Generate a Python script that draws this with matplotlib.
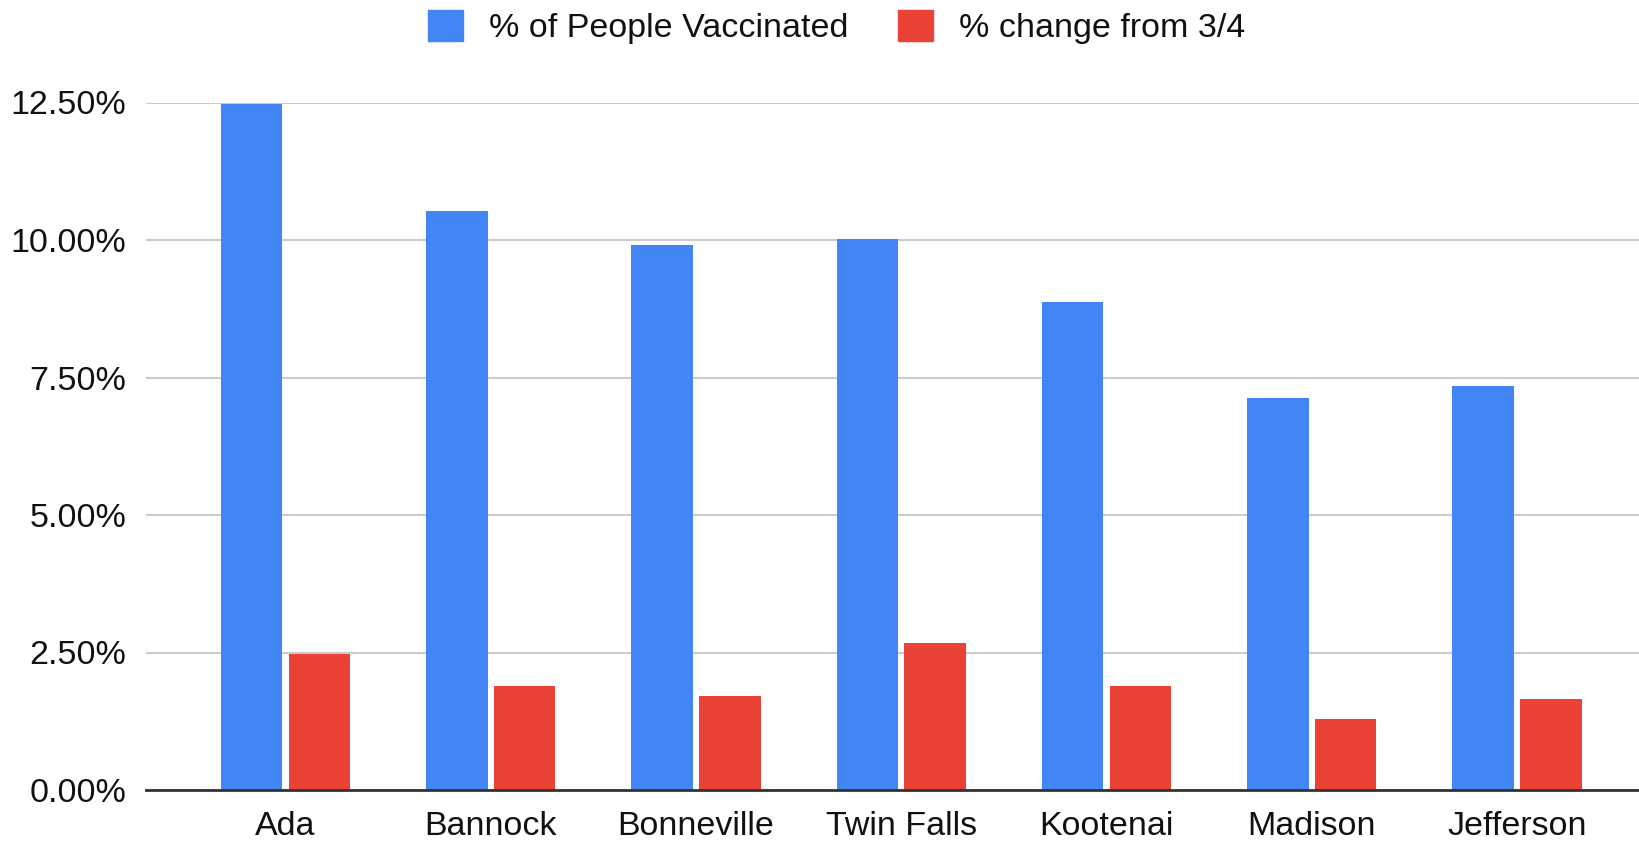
import matplotlib.pyplot as plt
from matplotlib.patches import Patch
from matplotlib.ticker import FuncFormatter
import numpy as np

plt.rcParams['font.family'] = ['Liberation Sans', 'DejaVu Sans']

# data
counties = ['Ada', 'Bannock', 'Bonneville', 'Twin Falls', 'Kootenai', 'Madison', 'Jefferson']
pct_vaccinated = [12.48, 10.52, 9.91, 10.01, 8.88, 7.13, 7.34]
pct_change = [2.47, 1.90, 1.71, 2.68, 1.90, 1.29, 1.66]
series_names = ['% of People Vaccinated', '% change from 3/4']
yticks = [0, 2.5, 5, 7.5, 10, 12.5]

blue = '#4285F4'
red = '#EA4335'

fig = plt.figure(figsize=(16.4, 8.42), dpi=100)
ax = fig.add_axes([146 / 1640, 1 - 790 / 842, 1 - 146 / 1640, (790 - 102.5) / 842])

x = np.arange(len(counties))
w = 0.3
ax.bar(x - 0.165, pct_vaccinated, w, color=blue, zorder=3)
ax.bar(x + 0.165, pct_change, w, color=red, zorder=3)

ax.set_xlim(-0.68, len(counties) - 1 + 0.6)
ax.set_ylim(0, 12.5)
ax.set_yticks(yticks)
ax.yaxis.set_major_formatter(FuncFormatter(lambda v, p: '%.2f%%' % v))
ax.set_xticks(x)
ax.set_xticklabels(counties)

# gridlines and axis line
ax.yaxis.grid(True, color='#cccccc', linewidth=1.5, zorder=0)
for s in ['top', 'right', 'left']:
    ax.spines[s].set_visible(False)
ax.spines['bottom'].set_color('#333333')
ax.spines['bottom'].set_linewidth(2)
ax.spines['bottom'].set_zorder(4)
ax.tick_params(axis='both', length=0, labelsize=24.5, labelcolor='#111111')
ax.tick_params(axis='x', pad=15)
ax.tick_params(axis='y', pad=14)

handles = [Patch(color=blue), Patch(color=red)]
fig.legend(handles, series_names, loc='center', bbox_to_anchor=(0.51, 1 - 27 / 842),
           ncol=2, frameon=False, fontsize=24.5, handlelength=1.05, handleheight=1.05,
           handletextpad=0.75, columnspacing=1.45, labelcolor='#111111')

fig.savefig('out.png', dpi=100)
